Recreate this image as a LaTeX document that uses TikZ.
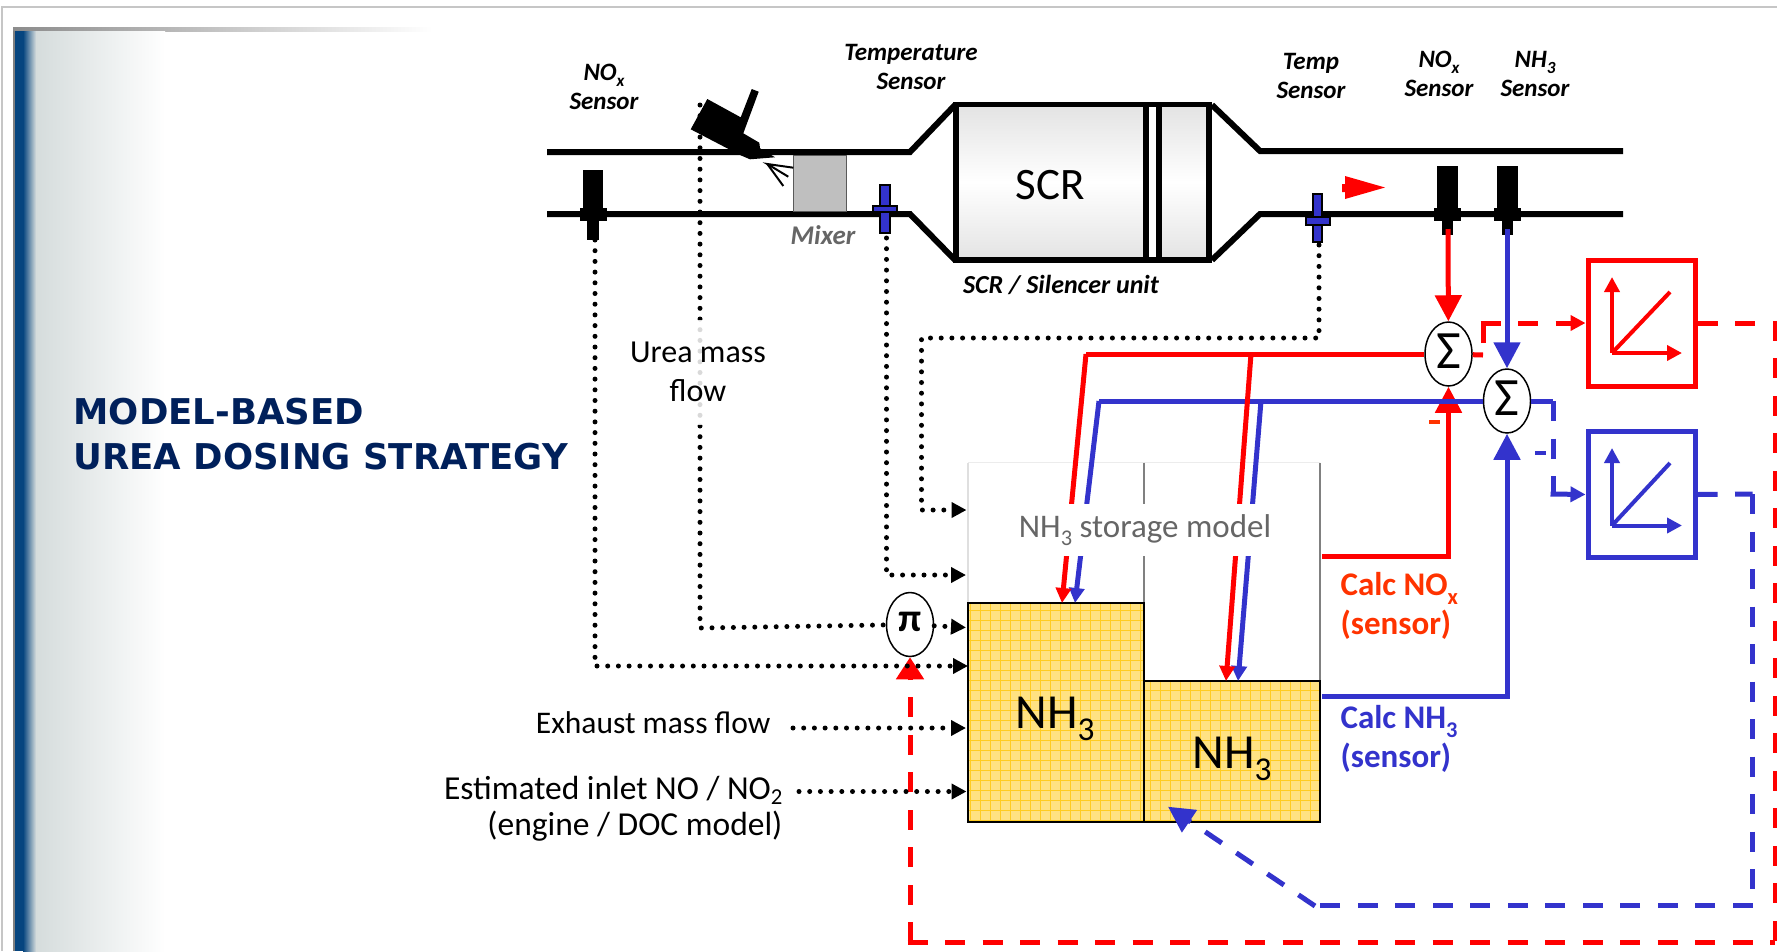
\documentclass[tikz,border=0pt]{standalone}
\usepackage{fontspec}
\setmainfont{Carlito}
\newfontfamily\titlefont{DejaVu Sans}
\usetikzlibrary{arrows.meta,shapes.geometric}
\definecolor{scrred}{HTML}{FF0000}
\definecolor{scrblue}{HTML}{3333CC}
\definecolor{calcred}{HTML}{FF3300}
\definecolor{titlenavy}{HTML}{00205B}
\definecolor{ammonia}{HTML}{FFE283}
\definecolor{ammoniagrid}{HTML}{FFCC22}
\definecolor{bandblue}{HTML}{06457F}
\definecolor{bandgrey}{HTML}{D5DCDC}
\newcommand{\fsize}[2]{\fontsize{#1}{#2}\selectfont}
\newcommand{\lowsub}[1]{\raisebox{-0.25em}{\scalebox{0.68}{#1}}}
\tikzset{
  pipeline/.style={line width=6pt},
  sensorlabel/.style={align=center,font=\fsize{25}{29}\bfseries\itshape},
  sumnode/.style={ellipse,draw=black,line width=1.5pt,fill=white,minimum width=47pt,minimum height=64pt,inner sep=0pt},
  dotline/.style={line width=5pt,line cap=round,dash pattern=on 0pt off 10.7pt,-{Triangle[length=15pt,width=15pt]}},
  dotplain/.style={line width=5pt,line cap=round,dash pattern=on 0pt off 10.7pt},
  redline/.style={scrred,line width=5pt},
  blueline/.style={scrblue,line width=5pt},
  redback/.style={redline,dash pattern=on 20pt off 17.5pt},
  blueback/.style={blueline,dash pattern=on 20pt off 17.5pt},
  bigtip/.style={-{Triangle[length=26pt,width=26pt]}},
  smalltip/.style={-{Triangle[length=15pt,width=15pt]}},
  plotbox/.style={line width=5pt,fill=white,minimum width=107pt,minimum height=126pt,inner sep=0pt},
}
\begin{document}
\begin{tikzpicture}[x=1pt,y=-1pt]
\useasboundingbox (0,0) rectangle (1777,951);
% slide frame
\draw[gray!45,line width=1.5pt] (2,951) -- (2,7) -- (1777,7);
\fill[left color=gray!90,right color=white] (13,27) rectangle (432,31);
\fill[gray] (13,31) rectangle (15,951);
\fill[bandblue] (15,31) rectangle (23,951);
\fill[left color=bandblue,right color=bandgrey] (23,31) rectangle (36,951);
\fill[left color=bandgrey,right color=white] (36,31) rectangle (165,951);
\node[anchor=west,titlenavy,align=left,font=\titlefont\fsize{35.5}{45.5}\bfseries] (title) at (70,434) {MODEL-BASED\\UREA DOSING STRATEGY};
% exhaust line
\draw[pipeline] (547,152) -- (910,152) -- (955,105);
\draw[pipeline] (547,214) -- (910,214) -- (955,260);
\draw[pipeline] (1212,105) -- (1260,151) -- (1623,151);
\draw[pipeline] (1212,260) -- (1260,214) -- (1623,214);
\draw[line width=5.5pt,top color=gray!22,bottom color=gray!22,middle color=white] (956,104.5) rectangle (1146,260);
\draw[line width=5.5pt,fill=white] (1146,104.5) rectangle (1159,260);
\draw[line width=5.5pt,top color=gray!22,bottom color=gray!22,middle color=white] (1159,104.5) rectangle (1209,260);
\node[font=\fsize{45}{45}] (scr) at (1050,185) {SCR};
\node[font=\fsize{26}{26}\bfseries\itshape] (unit) at (1061,285) {SCR / Silencer unit};
% mixer and injector
\draw[gray!70!black,line width=1pt,fill=gray!50] (793,155) rectangle (846,211);
\node[black!60,font=\fsize{27}{27}\bfseries\itshape] (mixer) at (823,235) {Mixer};
\fill (707.3,99) -- (740.7,117.3) -- (751.7,89) -- (758.7,91.7) -- (743.3,133.3) -- (759.3,142.7) -- (760,148.3) -- (775,157.3) -- (750,159.3) -- (740,155) -- (690.7,129.3) -- cycle;
\draw[line width=2pt] (793.3,167.7) -- (767.3,164) -- (788.3,176.7);
\draw[line width=2pt] (767.3,164) -- (783.3,186);
% sensors
\foreach \sx/\sy/\sz in {582.5/170/240,1437/166/235,1497/166/235} {
  \fill (\sx,\sy) rectangle (\sx+20.5,214);
  \fill (\sx-3,208) rectangle (\sx+24,221);
  \fill (\sx+4.5,214) rectangle (\sx+16,\sz);
}
\draw[line width=2pt,fill=scrblue] (879.5,185) rectangle (889.5,233);
\draw[line width=2pt,fill=scrblue] (873,206) rectangle (897,212);
\draw[line width=2pt,fill=scrblue] (1312.5,194) rectangle (1322,242);
\draw[line width=2pt,fill=scrblue] (1306,217) rectangle (1330,225);
\fill[scrred] (1342,184) -- (1345,184) -- (1345,176) -- (1385,187.5) -- (1345,199) -- (1345,192) -- (1342,192) -- cycle;
\node[sensorlabel] (noxin) at (604,87) {NO\lowsub{x}\\Sensor};
\node[sensorlabel] (tempin) at (911,67) {Temperature\\Sensor};
\node[sensorlabel] (tempout) at (1311,76) {Temp\\Sensor};
\node[sensorlabel] (noxout) at (1439,74) {NO\lowsub{x}\\Sensor};
\node[sensorlabel] (nhout) at (1535,74) {NH\lowsub{3}\\Sensor};
\coordinate (noxinend) at (595,240);
\coordinate (doser) at (700,105);
\coordinate (tempinend) at (886.5,238);
\coordinate (tempoutend) at (1319,245);
\coordinate (noxoutend) at (1448,229);
\coordinate (nhoutend) at (1507,229);
% storage model
\draw[gray!15,line width=1pt] (968,462.5) -- (1320,462.5);
\draw[gray!25,line width=1.5pt] (968,462.5) -- (968,603);
\draw[gray,line width=1.5pt] (1144,462.5) -- (1144,681);
\draw[gray,line width=1.5pt] (1320,462.5) -- (1320,681);
\draw[fill=ammonia,draw=none] (968,603) rectangle (1144,821.5);
\draw[fill=ammonia,draw=none] (1144,681) rectangle (1320,821.5);
\draw[ammoniagrid,line width=0.7pt,step=10pt] (968,603) grid (1144,821.5);
\draw[ammoniagrid,line width=0.7pt,step=10pt] (1144,681) grid (1320,821.5);
\draw[line width=2pt] (968,603) rectangle (1144,821.5);
\draw[line width=2pt] (1144,681) rectangle (1320,821.5);
\node[font=\fsize{49}{49}] (leftammonia) at (1055,719) {NH\lowsub{3}};
\node[font=\fsize{49}{49}] (rightammonia) at (1232,759) {NH\lowsub{3}};
\coordinate (lefttarget) at (1062,603);
\coordinate (lefttargetb) at (1075,603);
\coordinate (righttarget) at (1226,681);
\coordinate (righttargetb) at (1238,681);
% summing points and plots
\node[sumnode] (sumnox) at (1448.5,354) {};
\node[sumnode] (sumnh) at (1507,401) {};
\node[sumnode] (piprod) at (910,624.5) {};
\node[font=\fsize{54}{54}] (sumnoxsign) at (1448.5,351) {Σ};
\node[font=\fsize{54}{54}] (sumnhsign) at (1507,398) {Σ};
\node[font=\fsize{40}{40}\bfseries] (pisign) at (910,622) {π};
\node[plotbox,draw=scrred] (plotnox) at (1641.5,323) {};
\node[plotbox,draw=scrblue] (plotnh) at (1641.5,494.5) {};
\coordinate (noxorigin) at (1612,353);
\coordinate (nhorigin) at (1612,525.5);
\draw[scrred,line width=4pt,smalltip] (noxorigin) -- (1612,277);
\draw[scrred,line width=4pt,smalltip] (noxorigin) -- (1682,353);
\draw[scrred,line width=4pt] (noxorigin) -- (1670,292);
\draw[scrblue,line width=4pt,smalltip] (nhorigin) -- (1612,448);
\draw[scrblue,line width=4pt,smalltip] (nhorigin) -- (1682,525.5);
\draw[scrblue,line width=4pt] (nhorigin) -- (1670,463);
% solid signal lines
\coordinate (modelnox) at (1322,556.5);
\coordinate (modelnh) at (1322,696.5);
\coordinate (cornernox) at (1448.5,556.5);
\coordinate (cornernh) at (1507,696.5);
\coordinate (turnnox) at (1086,354);
\coordinate (branchnox) at (1251,354);
\coordinate (turnnh) at (1099,401);
\coordinate (branchnh) at (1261,401);
\draw[redline,bigtip] (modelnox) -- (cornernox) -- (sumnox);
\draw[blueline,bigtip] (modelnh) -- (cornernh) -- (sumnh);
\draw[blueline,line join=miter] (sumnh) -- (turnnh);
\draw[blueline,smalltip] (turnnh) -- (lefttargetb);
\draw[blueline,smalltip] (branchnh) -- (righttargetb);
\draw[redline] (sumnox) -- (turnnox);
\draw[redline,smalltip] (turnnox) -- (lefttarget);
\draw[redline,smalltip] (branchnox) -- (righttarget);
\draw[redline,bigtip] (noxoutend) -- (sumnox);
\draw[blueline,bigtip] (nhoutend) -- (sumnh);
% feedback lines
\coordinate (redout) at (1483,355);
\coordinate (redup) at (1483,323);
\coordinate (blueout) at (1553,401);
\coordinate (bluedown) at (1553,494);
\coordinate (blueright) at (1752.5,494);
\coordinate (bluelow) at (1752.5,905);
\coordinate (bluebend) at (1320,905);
\coordinate (blueelbow) at (1315,906);
\coordinate (redright) at (1775,323);
\coordinate (redlow) at (1775,942);
\coordinate (redbend) at (910,942);
\coordinate (redend) at (910,690);
\coordinate (storagein) at (1168,806.7);
\draw[redline] (sumnox) -- (redout);
\draw[redline] (1483,343) -- (redup);
\draw[redback,smalltip] (1480.5,323) -- (plotnox.west);
\draw[blueline] (sumnh) -- (blueout);
\draw[blueback] (blueout) -- (bluedown);
\draw[blueline,smalltip] (1550.5,494) -- (plotnh.west);
\draw[blueback] (plotnh.east) -- (blueright);
\draw[blueback] (blueright) -- (bluelow);
\draw[blueback] (bluelow) -- (bluebend);
\draw[blueback,-{Triangle[length=26pt,width=26pt]}] (blueelbow) -- (storagein);
\draw[redback] (plotnox.east) -- (redright) -- (redlow);
\draw[redback] (907.5,942) -- (redlow);
\draw[redback] (redbend) -- (redend);
\draw[redline,-{Triangle[length=22pt,width=27pt]}] (910,680) -- (piprod);
% dotted inputs
\coordinate (intemp) at (966.5,510);
\coordinate (inmixer) at (966,575);
\coordinate (inurea) at (966,627.5);
\coordinate (innox) at (968,666);
\coordinate (inexhaust) at (966,728);
\coordinate (inestimate) at (966.5,791.5);
\draw[dotline] (tempoutend) -- (1319,338) -- (921.5,338) -- (921.5,510) -- (intemp);
\draw[dotline] (tempinend) -- (886.5,575) -- (inmixer);
\draw[dotline] (noxinend) -- (595,666) -- (innox);
\draw[dotplain] (doser) -- (700,628) -- (piprod);
\draw[dotline] (piprod) -- (inurea);
\node[anchor=east,font=\fsize{31.5}{33}] (exhaust) at (774,723) {Exhaust mass flow};
\node[anchor=east,align=right,font=\fsize{33.5}{36}] (estimate) at (786,809) {Estimated inlet NO / NO\raisebox{-0.15em}{\scalebox{0.68}{2}}\\(engine / DOC model)};
\draw[dotline] (793,728) -- (inexhaust);
\draw[dotline] (799,791.5) -- (inestimate);
\node[fill=white,fill opacity=.85,text opacity=1,align=center,inner sep=1pt,minimum height=105pt,font=\fsize{32}{39}] (urealabel) at (698,372) {Urea mass\\flow};
% labels in front
\node[black!60,fill=white,inner sep=0pt,minimum width=258pt,minimum height=52pt,font=\fsize{33}{33}] (storage) at (1145,530) {NH\lowsub{3} storage model};
\node[calcred,anchor=west,align=left,font=\fsize{33}{38.5}\bfseries] (calcnox) at (1337,606) {Calc NO\lowsub{x}\\(sensor)};
\node[scrblue,anchor=west,align=left,font=\fsize{33}{38.5}\bfseries] (calcnh) at (1337,739) {Calc NH\lowsub{3}\\(sensor)};
\fill[calcred] (1429,420) rectangle (1440,424);
\fill[scrblue] (1535,451) rectangle (1546,455);
\end{tikzpicture}
\end{document}
